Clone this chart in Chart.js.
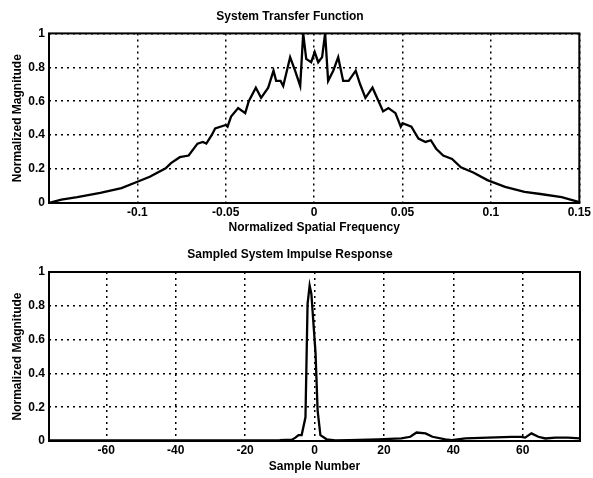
<!DOCTYPE html>
<html>
<head>
<meta charset="utf-8">
<script src="https://cdn.jsdelivr.net/npm/chart.js@4.4.0/dist/chart.umd.min.js"></script>
<style>
  html, body { margin: 0; padding: 0; background: #fff; }
  #wrap { position: relative; width: 593px; height: 478px; }
  canvas { position: absolute; left: 0; }
</style>
</head>
<body>
<div id="wrap">
  <canvas id="transfer" width="593" height="240" style="top:0"></canvas>
  <canvas id="impulse" width="593" height="238" style="top:240px"></canvas>
</div>
<script>
// top plot: system transfer function
const freq = [
  -0.150, -0.143, -0.134, -0.121, -0.109, -0.100, -0.093, -0.084, -0.081, -0.076,
  -0.071, -0.066, -0.063, -0.061, -0.058, -0.056, -0.050, -0.049, -0.047, -0.043,
  -0.039, -0.037, -0.033, -0.030, -0.026, -0.023, -0.0215, -0.019, -0.0175, -0.0136,
  -0.0108, -0.0079, -0.0062, -0.0045, -0.0017, 0.0003, 0.0023, 0.0045, 0.0062, 0.0079,
  0.0108, 0.0136, 0.0164, 0.0195, 0.0235, 0.026, 0.029, 0.033, 0.036, 0.039,
  0.042, 0.046, 0.049, 0.050, 0.055, 0.059, 0.063, 0.066, 0.069, 0.073,
  0.078, 0.083, 0.090, 0.098, 0.108, 0.119, 0.128, 0.140, 0.150
]
const transferMag = [
  0.00, 0.02, 0.035, 0.06, 0.088, 0.125, 0.155, 0.205, 0.235, 0.27,
  0.28, 0.35, 0.36, 0.35, 0.40, 0.44, 0.46, 0.45, 0.51, 0.56,
  0.53, 0.60, 0.68, 0.62, 0.68, 0.78, 0.72, 0.72, 0.69, 0.86,
  0.78, 0.69, 1.00, 0.85, 0.83, 0.89, 0.83, 0.86, 1.00, 0.72,
  0.78, 0.86, 0.72, 0.72, 0.78, 0.70, 0.62, 0.68, 0.61, 0.54,
  0.56, 0.53, 0.45, 0.47, 0.45, 0.38, 0.36, 0.37, 0.32, 0.28,
  0.26, 0.21, 0.18, 0.135, 0.095, 0.065, 0.053, 0.035, 0.005
]
const freqTicks = [-0.1, -0.05, 0, 0.05, 0.1, 0.15]

// bottom plot: sampled impulse response
const sampleNum = [
  -76.5, -60, -40, -20, -10, -6.5, -5.5, -4.6, -3.7, -2.6,
  -2.0, -1.4, -0.9, 0.3, 0.9, 1.7, 3.5, 6, 10, 18.4,
  25, 27.6, 29.4, 32, 34, 37.7, 39.5, 43.5, 50, 56.7,
  59.6, 60.7, 62.5, 64.5, 66.5, 69.4, 73, 76.5
]
const impulseMag = [
  0.003, 0.003, 0.003, 0.003, 0.005, 0.008, 0.02, 0.035, 0.035, 0.14,
  0.81, 0.92, 0.87, 0.52, 0.18, 0.035, 0.01, 0.003, 0.005, 0.01,
  0.015, 0.025, 0.05, 0.045, 0.025, 0.01, 0.005, 0.015, 0.02, 0.025,
  0.025, 0.02, 0.045, 0.025, 0.015, 0.02, 0.02, 0.015
]
const sampleTicks = [-60, -40, -20, 0, 20, 40, 60]

const magTicks = [0, 0.2, 0.4, 0.6, 0.8, 1]

const font = { family: 'Liberation Sans, Arial, sans-serif', size: 12, weight: 'bold' }
Chart.defaults.color = '#000'

const frame = {
  id: 'frame',
  afterDatasetsDraw(chart) {
    const { ctx, chartArea: a } = chart
    ctx.save()
    ctx.strokeStyle = '#000'
    ctx.lineWidth = 2
    ctx.strokeRect(a.left, a.top, a.right - a.left, a.bottom - a.top)
    ctx.restore()
  },
}

function makePlot(id, xs, ys, xMin, xMax, xTicks, title, xTitle, titlePad, xTitlePad) {
  const grid = { color: '#000', lineWidth: 1.5, drawTicks: false }
  // in v4 the dash of the grid lines lives under border
  const border = { display: false, dash: [2, 4] }
  new Chart(document.getElementById(id), {
    type: 'line',
    data: {
      datasets: [
        {
          data: xs.map((x, i) => ({ x, y: ys[i] })),
          borderColor: '#000',
          borderWidth: 2.3,
          pointRadius: 0,
          tension: 0,
          fill: false,
        },
      ],
    },
    options: {
      responsive: false,
      animation: false,
      layout: { padding: { left: 0, right: 13, top: 0, bottom: 0 } },
      plugins: {
        legend: { display: false },
        tooltip: { enabled: false },
        title: { display: true, text: title, font, color: '#000', padding: titlePad },
      },
      scales: {
        x: {
          type: 'linear',
          min: xMin,
          max: xMax,
          grid,
          border,
          afterBuildTicks: (s) => { s.ticks = xTicks.map((v) => ({ value: v })) },
          afterFit: (s) => { s.height = 37 },
          ticks: { font, color: '#000', padding: 2, maxRotation: 0, callback: (v) => String(+v.toFixed(3)) },
          title: { display: true, text: xTitle, font, color: '#000', padding: { top: 0, bottom: xTitlePad } },
        },
        y: {
          min: 0,
          max: 1,
          grid,
          border,
          afterBuildTicks: (s) => { s.ticks = magTicks.map((v) => ({ value: v })) },
          afterFit: (s) => { s.width = 49 },
          ticks: { font, color: '#000', padding: 4, callback: (v) => String(+v.toFixed(2)) },
          title: { display: true, text: 'Normalized Magnitude', font, color: '#000', padding: { top: 10, bottom: 0 } },
        },
      },
    },
    plugins: [frame],
  })
}

makePlot('transfer', freq, transferMag, -0.15, 0.15, freqTicks,
  'System Transfer Function', 'Normalized Spatial Frequency', { top: 9, bottom: 10 }, 4.8)
makePlot('impulse', sampleNum, impulseMag, -76.5, 76.5, sampleTicks,
  'Sampled System Impulse Response', 'Sample Number', { top: 7, bottom: 10.6 }, 3.8)
</script>
</body>
</html>
